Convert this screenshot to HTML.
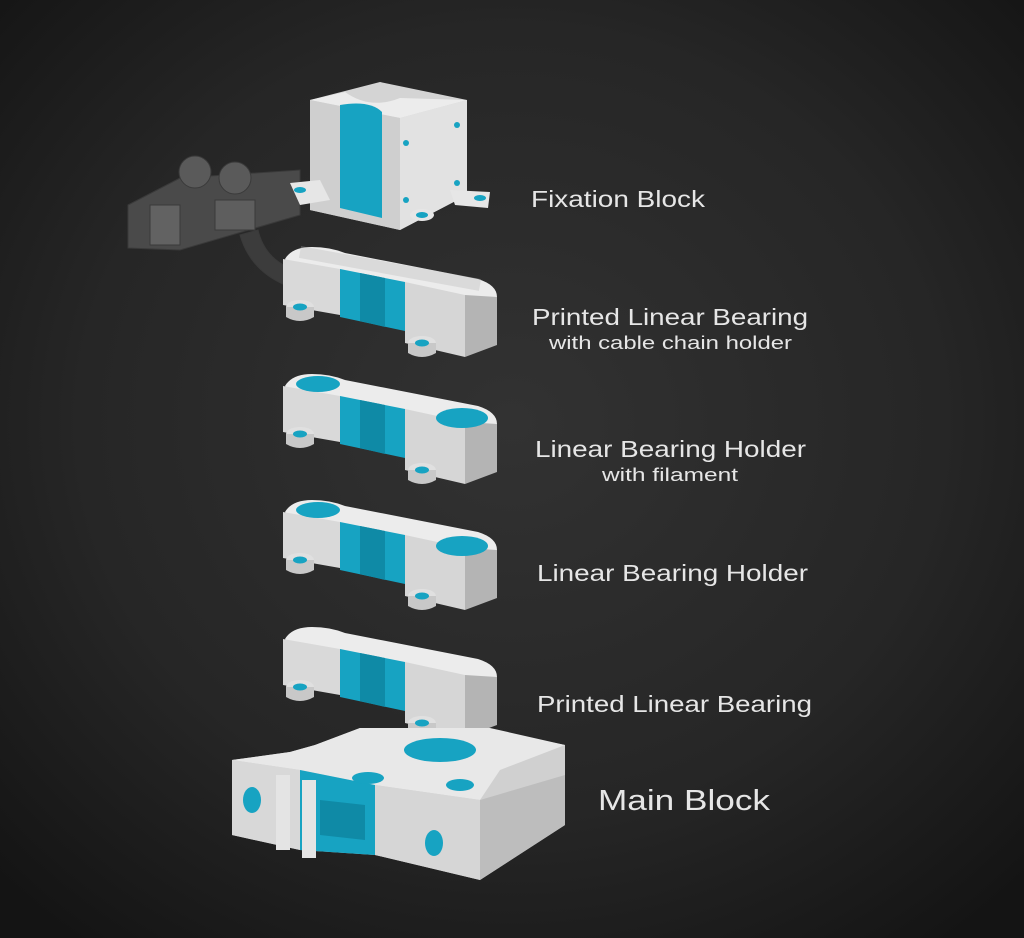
<!DOCTYPE html>
<html><head><meta charset="utf-8"><style>
html,body{margin:0;padding:0;width:1024px;height:938px;overflow:hidden;background:#1c1c1c}
svg{display:block}
text{font-family:"Liberation Sans","DejaVu Sans",sans-serif;fill:#e6e6e6}
</style></head><body>
<svg width="1024" height="938" viewBox="0 0 1024 938" xmlns="http://www.w3.org/2000/svg">
<defs>
<radialGradient id="bg" cx="0.5" cy="0.45" r="0.7">
<stop offset="0" stop-color="#323232"/><stop offset="0.6" stop-color="#262626"/><stop offset="1" stop-color="#141414"/>
</radialGradient>
<g id="holder">
  <path d="M285,14 Q292,2 312,2 Q330,2 345,8 L478,34 Q497,40 497,52 L497,58 L465,62 L300,30 Z" fill="#ececec"/>
  <path d="M283,14 L340,24 L340,70 L283,60 Z" fill="#d9d9d9"/>
  <path d="M340,24 L405,37 L405,86 L340,72 Z" fill="#17a3c2"/>
  <path d="M360,28 L385,33 L385,82 L360,76 Z" fill="#0f8aa6"/>
  <path d="M405,37 L465,50 L465,112 L405,98 Z" fill="#d6d6d6"/>
  <path d="M465,50 L497,52 L497,100 L465,112 Z" fill="#b4b4b4"/>
  <ellipse cx="300" cy="62" rx="14" ry="7" fill="#e0e0e0"/>
  <path d="M286,62 L286,72 Q300,80 314,72 L314,62 Z" fill="#c8c8c8"/>
  <ellipse cx="300" cy="62" rx="7" ry="3.5" fill="#17a3c2"/>
  <ellipse cx="422" cy="98" rx="14" ry="7" fill="#e0e0e0"/>
  <path d="M408,98 L408,108 Q422,116 436,108 L436,98 Z" fill="#c8c8c8"/>
  <ellipse cx="422" cy="98" rx="7" ry="3.5" fill="#17a3c2"/>
</g>
</defs>
<rect width="1024" height="938" fill="url(#bg)"/>

<g fill="#555" stroke="#3a3a3a" stroke-width="1">
  <path d="M128,205 L180,178 L300,170 L300,215 L180,250 L128,248 Z" fill="#4a4a4a"/>
  <circle cx="195" cy="172" r="16" fill="#5a5a5a"/>
  <circle cx="235" cy="178" r="16" fill="#5a5a5a"/>
  <rect x="150" y="205" width="30" height="40" fill="#626262"/>
  <rect x="215" y="200" width="40" height="30" fill="#5e5e5e"/>
  <path d="M240,235 Q250,270 285,285 L295,270 Q265,260 258,230 Z" fill="#3c3c3c"/>
</g>

<path d="M310,100 L380,82 L467,100 L467,195 L400,230 L310,210 Z" fill="#d4d4d4"/>
<path d="M310,100 L345,92 Q370,110 400,98 L467,100 L400,118 Z" fill="#ececec"/>
<path d="M400,118 L467,100 L467,195 L400,230 Z" fill="#e2e2e2"/>
<path d="M310,100 L400,118 L400,230 L310,210 Z" fill="#cfcfcf"/>
<path d="M340,105 Q370,100 382,112 L382,218 L340,208 Z" fill="#17a3c2"/>
<path d="M290,183 L320,180 L330,200 L300,205 Z" fill="#e6e6e6"/>
<path d="M450,190 L490,192 L488,208 L455,205 Z" fill="#e6e6e6"/>
<ellipse cx="300" cy="190" rx="6" ry="3" fill="#17a3c2"/>
<ellipse cx="480" cy="198" rx="6" ry="3" fill="#17a3c2"/>
<ellipse cx="422" cy="215" rx="12" ry="6" fill="#e6e6e6"/>
<ellipse cx="422" cy="215" rx="6" ry="3" fill="#17a3c2"/>
<circle cx="457" cy="125" r="3" fill="#17a3c2"/><circle cx="457" cy="183" r="3" fill="#17a3c2"/>
<circle cx="406" cy="143" r="3" fill="#17a3c2"/><circle cx="406" cy="200" r="3" fill="#17a3c2"/>

<use href="#holder" transform="translate(0,245)"/>
<path d="M300,252 L480,285" stroke="#bbb" stroke-width="12" opacity="0.35"/>
<use href="#holder" transform="translate(0,372)"/>
<ellipse cx="318" cy="384" rx="22" ry="8" fill="#17a3c2"/>
<ellipse cx="462" cy="418" rx="26" ry="10" fill="#17a3c2"/>
<use href="#holder" transform="translate(0,498)"/>
<ellipse cx="318" cy="510" rx="22" ry="8" fill="#17a3c2"/>
<ellipse cx="462" cy="546" rx="26" ry="10" fill="#17a3c2"/>
<use href="#holder" transform="translate(0,625)"/>

<path d="M315,745 L360,728 L480,728 L565,745 L565,825 L480,880 L375,855 L300,850 L232,835 L232,760 L290,752 Z" fill="#d0d0d0"/>
<path d="M315,745 L360,728 L490,728 L565,745 L500,770 L480,800 L375,785 L300,770 L232,760 L290,752 Z" fill="#e8e8e8"/>
<path d="M480,800 L565,775 L565,825 L480,880 Z" fill="#bdbdbd"/>
<path d="M375,785 L480,800 L480,880 L375,855 Z" fill="#d6d6d6"/>
<path d="M232,760 L300,770 L300,850 L232,835 Z" fill="#d8d8d8"/>
<path d="M300,770 L375,785 L375,855 L300,850 Z" fill="#17a3c2"/>
<path d="M320,800 L365,805 L365,840 L320,835 Z" fill="#0f8aa6"/>
<ellipse cx="440" cy="750" rx="36" ry="12" fill="#17a3c2"/>
<ellipse cx="368" cy="778" rx="16" ry="6" fill="#17a3c2"/>
<ellipse cx="460" cy="785" rx="14" ry="6" fill="#17a3c2"/>
<ellipse cx="252" cy="800" rx="9" ry="13" fill="#17a3c2"/>
<ellipse cx="434" cy="843" rx="9" ry="13" fill="#17a3c2"/>
<rect x="276" y="775" width="14" height="75" fill="#e4e4e4"/>
<rect x="302" y="780" width="14" height="78" fill="#e4e4e4"/>

<text x="531" y="207" font-size="23" textLength="174" lengthAdjust="spacingAndGlyphs">Fixation Block</text>
<text x="532" y="325" font-size="23" textLength="276" lengthAdjust="spacingAndGlyphs">Printed Linear Bearing</text>
<text x="549" y="349" font-size="18" textLength="243" lengthAdjust="spacingAndGlyphs">with cable chain holder</text>
<text x="535" y="457" font-size="23" textLength="271" lengthAdjust="spacingAndGlyphs">Linear Bearing Holder</text>
<text x="602" y="481" font-size="18" textLength="136" lengthAdjust="spacingAndGlyphs">with filament</text>
<text x="537" y="581" font-size="23" textLength="271" lengthAdjust="spacingAndGlyphs">Linear Bearing Holder</text>
<text x="537" y="712" font-size="23" textLength="275" lengthAdjust="spacingAndGlyphs">Printed Linear Bearing</text>
<text x="598" y="810" font-size="29" textLength="172" lengthAdjust="spacingAndGlyphs">Main Block</text>
</svg>
</body></html>
